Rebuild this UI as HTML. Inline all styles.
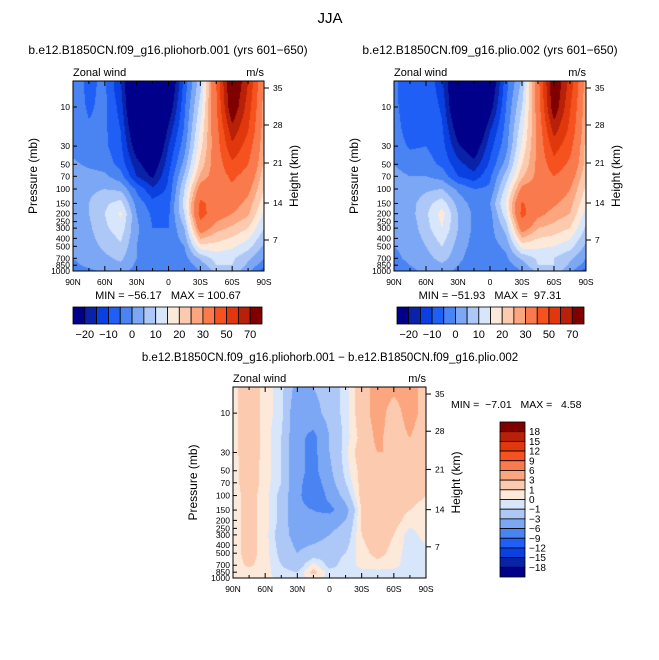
<!DOCTYPE html>
<html><head><meta charset="utf-8">
<style>
body{margin:0;background:#fff;width:659px;height:660px;overflow:hidden;position:relative;font-family:"Liberation Sans",sans-serif}
canvas{position:absolute}
svg{position:absolute;left:0;top:0}
svg text{white-space:pre}
</style></head>
<body>
<canvas id="c1" width="191" height="190" style="left:73px;top:81px"></canvas>
<canvas id="c2" width="192" height="190" style="left:394px;top:81px"></canvas>
<canvas id="c3" width="193" height="191" style="left:233px;top:387px"></canvas>
<svg id="s" width="659" height="660"></svg>
<script>
const lats=["90N","75N","60N","45N","30N","15N","0","15S","30S","45S","60S","75S","90S"];
const pLevels=[5,10,20,30,50,70,100,150,200,300,500,700,850,1000];
const windA=[
[-3,-6,-4,-15,-35,-50,-30,-8,8,40,85,60,28],
[-3,-5.5,-4,-12,-35,-45,-25,-6,12,38,80,55,27],
[-2.5,-4.5,-4,-10,-28,-38,-18,-4,16,36,65,50,26],
[-2,-3.5,-4,-9,-24,-32,-15,-2,18,35,58,45,25],
[1,-1,-2,-7,-18,-25,-12,2,22,34,48,40,24],
[3,2,1,-3,-15,-21,-10,6,26,34,42,36,22],
[3,4,5,4,-6,-14,-9,10,34,36,38,32,20],
[3,5,9,12,-2,-8,-7,12,42,36,33,28,17],
[3,5,10,16,0,-6,-6,10,44,34,30,26,14],
[2,4,9,13,1,-5,-5,5,35,27,24,20,10],
[1,3,6,9,0,-4,-4,0,18,18,16,12,4],
[0,2,4,6,0,-4,-4,-2,6,12,11,6,0],
[-1,1,3,4,-1,-4,-5,-3,2,10,10,4,-3],
[-2,-1,1,2,-2,-3,-5,-4,0,6,8,2,-8]];
const windB=[
[-4,-8,-5,-14,-31,-47,-28,-7,6,36,82,56,26],
[-4,-7.5,-5,-11,-30,-41,-23,-5,10,34,78,51,25],
[-3.5,-6.5,-5,-9,-23,-31,-15,-3,14,32,63,47,24],
[-3,-5.5,-5,-8,-19,-25,-12,-2,16,32,55,43,23],
[0,-3,-3,-6,-13,-18,-9,2,20,32,46,38,23],
[2,0,0,-2,-10,-13,-6,7,24,32,40,34,21],
[2,2,4,5,-1,-5,-4,12,32,34,36,30,19],
[2,3,8,13,3,-2,0,16,41,34,31,27,16],
[2,3,9,17,5,-1,-2,13,43,32,28,25,13],
[1,2,8,15,5,-1,-2,7,34,25,23,20,9],
[0,1,5,10,3,-2,-2,1,17,16,15,12,4],
[-1,1,3,7,2,-4,-2,-1,6,11,10,6,0],
[-2,0,2,4,0,-5,-4,-2,2,10,10,4,-2],
[-3,-1,1,2,-1,-4,-4,-3,0,6,8,2,-8]];
const windDiff=[
[0.5,2,0.5,-0.5,-4,-3,-2,-0.5,2,4,3.5,4,2],
[0.5,2,0.5,-0.5,-5,-4,-2,-0.5,2,4,2,4,2],
[0.5,2,0.5,-1,-5,-7,-3,-0.5,1.5,3.5,2,3,1.5],
[0.5,2,0.5,-1,-5,-7,-3,-0.3,2,3,3,2,1.5],
[0.5,1.8,0.5,-1,-5,-7,-3.5,-0.5,1.5,2,2,2,1],
[0.5,1.8,0.5,-1,-5,-8,-4,-1,1.5,2,2,1.5,1],
[0.5,1.5,0.5,-1.5,-5,-9,-5,-2,1.5,2,2,1.5,1],
[0.5,1.5,0.5,-1.5,-5,-6,-7,-4,1.2,2,1.5,1,0.5],
[0.5,1.5,0.5,-1.5,-5,-5,-4,-3,1.2,2,1.5,0.5,0.5],
[0.5,1.5,0.5,-2,-4,-4,-3,-2,1,2,1,-0.5,0.5],
[0.5,1.5,0.5,-1.5,-3,-2,-1.5,-1,0.5,1.5,0.5,-0.5,-0.5],
[0.5,1.2,0.5,-1,-2,0.5,-1.5,-0.5,0.3,0.5,0.3,-0.5,-0.5],
[0.5,0.5,0.3,-0.5,-1,1.5,-0.5,-0.5,-0.3,-0.3,-0.3,-0.5,-0.5],
[0.5,0.3,0.3,-0.3,-0.5,0.5,-0.3,-0.3,-0.3,-0.3,-0.3,-0.3,0]];
const levelsA=[-20,-15,-10,-5,0,5,10,15,20,25,30,40,50,60,70];
const levelsD=[-18,-15,-12,-9,-6,-3,-1,0,1,3,6,9,12,15,18];
const labelsA=["−20","−10","0","10","20","30","50","70"];
const labelsD=["−18","−15","−12","−9","−6","−3","−1","0","1","3","6","9","12","15","18"];
const pTicks=[10,30,50,70,100,150,200,250,300,400,500,700,850,1000];
const hTicks=[35,28,21,14,7];
const hTickFrac=[7/190,44/190,82/190,122/190,159/190];
const xTicks=["90N","60N","30N","0","30S","60S","90S"];
const colors=["#00008a","#0a22a8","#0a3fe0","#1f5ff5","#4a83f2","#7ba7f5","#adc8f7","#d7e6fa","#fde9d9","#fccaae","#fba67e","#f97a4c","#f5521f","#e0380c","#b82008","#800000"];
const LT=Math.log10(4.82), LB=3;
function lv(v,levels){let k=0;while(k<levels.length&&v>=levels[k])k++;return k;}
function hex(h){return [parseInt(h.substr(1,2),16),parseInt(h.substr(3,2),16),parseInt(h.substr(5,2),16)];}
const rgb=colors.map(hex);
const logP=pLevels.map(p=>Math.log10(p));
function field(id,grid,levels){
  const c=document.getElementById(id),ctx=c.getContext('2d'),w=c.width,h=c.height;
  const img=ctx.createImageData(w,h);
  for(let y=0;y<h;y++){
    let lp=LT+(y+0.5)/h*(LB-LT);
    let r=0;while(r<logP.length-2&&lp>logP[r+1])r++;
    let fy=(lp-logP[r])/(logP[r+1]-logP[r]);fy=Math.max(0,Math.min(1,fy));
    for(let x=0;x<w;x++){
      let fx=(x+0.5)/w*(lats.length-1);let cI=Math.min(lats.length-2,Math.floor(fx));let tx=fx-cI;
      let v=(grid[r][cI]*(1-tx)+grid[r][cI+1]*tx)*(1-fy)+(grid[r+1][cI]*(1-tx)+grid[r+1][cI+1]*tx)*fy;
      let col=rgb[lv(v,levels)];let i=(y*w+x)*4;
      img.data[i]=col[0];img.data[i+1]=col[1];img.data[i+2]=col[2];img.data[i+3]=255;
    }
  }
  ctx.putImageData(img,0,0);
}
field('c1',windA,levelsA);field('c2',windB,levelsA);field('c3',windDiff,levelsD);
const S=document.getElementById('s');const NS="http://www.w3.org/2000/svg";
function el(t,a,txt){const e=document.createElementNS(NS,t);for(const k in a)e.setAttribute(k,a[k]);if(txt!==undefined)e.textContent=txt;S.appendChild(e);return e;}
function txt(x,y,s,size,anchor,name,rot){const a={x:x,y:y,'font-size':size,'text-anchor':anchor||'start',fill:'#000','font-family':'Liberation Sans, sans-serif'};if(rot)a.transform=rot;const e=el('text',a,s);e.setAttribute('xml:space','preserve');return e;}
function axes(x0,y0,w,h,pre){
  const r=el('rect',{x:x0,y:y0,width:w,height:h,fill:'none',stroke:'#000','stroke-width':1});
  
  pTicks.forEach(p=>{const y=y0+(Math.log10(p)-LT)/(LB-LT)*h;
    el('line',{x1:x0,x2:x0+4,y1:y,y2:y,stroke:'#000'});
    txt(x0-3,y+3,String(p),8.5,'end',pre+'-pressure-tick-label');});
  hTicks.forEach((v,i)=>{const y=y0+hTickFrac[i]*h;
    el('line',{x1:x0+w,x2:x0+w+5,y1:y,y2:y,stroke:'#000'});
    txt(x0+w+9,y+3,String(v),8.5,'start',pre+'-height-tick-label');});
  for(let i=0;i<=12;i++){const x=x0+i/12*w;const L=(i%2==0)?5:3;
    el('line',{x1:x,x2:x,y1:y0+h,y2:y0+h-L,stroke:'#000'});el('line',{x1:x,x2:x,y1:y0,y2:y0+L,stroke:'#000'});}
  xTicks.forEach((s,i)=>txt(x0+i/6*w,y0+h+14,s,8.5,'middle',pre+'-lat-tick-label'));
  txt(x0,y0-5,"Zonal wind",11,'start',pre+'-variable-label');
  txt(x0+w,y0-5,"m/s",11,'end',pre+'-units-label');
  txt(0,0,"Pressure (mb)",12,'middle',pre+'-y-axis-title','translate('+(x0-36)+','+(y0+h/2)+') rotate(-90)');
  txt(0,0,"Height (km)",12,'middle',pre+'-right-axis-title','translate('+(x0+w+34)+','+(y0+h/2)+') rotate(-90)');
}
axes(73,81,191,190,'panel1');axes(394,81,192,190,'panel2');axes(233,387,193,191,'diff');
function hbar(x0,y0,w,h,pre){const bw=w/16;
  for(let i=0;i<16;i++){const r=el('rect',{x:x0+i*bw,y:y0,width:bw,height:h,fill:colors[i],stroke:'#000','stroke-width':0.8});
    }
  labelsA.forEach((s,i)=>txt(x0+(1+2*i)*bw,y0+h+14,s,11,'middle',pre+'-colorbar-label'));}
hbar(73,307,189,17,'panel1');hbar(397,307,187,17,'panel2');
(function(){const x0=500,y0=422,w=25,h=155,bh=h/16;
  for(let i=0;i<16;i++){const r=el('rect',{x:x0,y:y0+i*bh,width:w,height:bh,fill:colors[15-i],stroke:'#000','stroke-width':0.8});
    }
  for(let i=0;i<15;i++){txt(x0+w+4,y0+(i+1)*bh+3.5,labelsD[14-i],10,'start','diff-colorbar-label');}
})();
txt(330,23,"JJA",15,'middle','figure-title');
txt(168,54,"b.e12.B1850CN.f09_g16.pliohorb.001 (yrs 601−650)",12,'middle','panel1-title');
txt(490,54,"b.e12.B1850CN.f09_g16.plio.002 (yrs 601−650)",12,'middle','panel2-title');
txt(168,299,"MIN = −56.17   MAX = 100.67",11,'middle','panel1-min-max');
txt(490,299,"MIN = −51.93   MAX =  97.31",11,'middle','panel2-min-max');
txt(330,361,"b.e12.B1850CN.f09_g16.pliohorb.001 − b.e12.B1850CN.f09_g16.plio.002",11.5,'middle','diff-title');
txt(451,408,"MIN =  −7.01   MAX =   4.58",10.5,'start','diff-min-max');
</script>
</body></html>
